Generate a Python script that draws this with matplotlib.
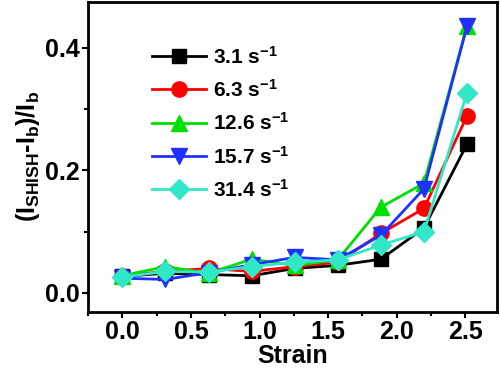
import matplotlib
matplotlib.use('Agg')
import matplotlib.pyplot as plt
from matplotlib.ticker import MultipleLocator

plt.rcParams['font.family'] = ['Liberation Sans', 'DejaVu Sans']
plt.rcParams['font.weight'] = 'bold'
plt.rcParams['mathtext.fontset'] = 'custom'
plt.rcParams['mathtext.rm'] = 'Liberation Sans:bold'
plt.rcParams['mathtext.bf'] = 'Liberation Sans:bold'
plt.rcParams['mathtext.default'] = 'bf'

strain = [0.0, 0.314, 0.628, 0.942, 1.256, 1.57, 1.884, 2.198, 2.512]
labels = ['3.1 s$^{-1}$', '6.3 s$^{-1}$', '12.6 s$^{-1}$', '15.7 s$^{-1}$', '31.4 s$^{-1}$']
rate_3_1 = [0.027, 0.032, 0.030, 0.028, 0.040, 0.045, 0.055, 0.106, 0.243]
rate_6_3 = [0.028, 0.035, 0.040, 0.035, 0.043, 0.050, 0.097, 0.138, 0.289]
rate_12_6 = [0.028, 0.043, 0.032, 0.055, 0.045, 0.054, 0.140, 0.179, 0.436]
rate_15_7 = [0.024, 0.022, 0.033, 0.046, 0.058, 0.054, 0.094, 0.170, 0.436]
rate_31_4 = [0.026, 0.035, 0.034, 0.043, 0.050, 0.054, 0.078, 0.100, 0.327]

series = [rate_3_1, rate_6_3, rate_12_6, rate_15_7, rate_31_4]
colors = ['#000000', '#ff0000', '#00e000', '#2030ff', '#30e8c8']
markers = ['s', 'o', '^', 'v', 'D']
sizes = [10, 11, 11, 11, 10]

fig = plt.figure(figsize=(5, 3.74), dpi=100)
ax = fig.add_axes([0.176, 0.166, 0.818, 0.829])

for vals, lab, c, m, ms in zip(series, labels, colors, markers, sizes):
    ax.plot(strain, vals, color=c, marker=m, markersize=ms, linewidth=2,
            label=lab)

ax.set_xlim(-0.25, 2.73)
ax.set_ylim(-0.031, 0.475)
ax.xaxis.set_major_locator(MultipleLocator(0.5))
ax.xaxis.set_minor_locator(MultipleLocator(0.25))
ax.yaxis.set_major_locator(MultipleLocator(0.2))
ax.yaxis.set_minor_locator(MultipleLocator(0.1))
ax.tick_params(which='major', direction='out', length=4, width=1.5,
               labelsize=18, pad=2)
ax.tick_params(which='minor', direction='out', length=3, width=1.5)
for lbl in ax.get_xticklabels() + ax.get_yticklabels():
    lbl.set_fontweight('bold')
for sp in ax.spines.values():
    sp.set_linewidth(2)

ax.set_xlabel('Strain', fontsize=18, fontweight='bold', labelpad=0)
ax.set_ylabel('(I$_{SHISH}$-I$_b$)/I$_b$', fontsize=18, fontweight='bold',
              labelpad=2)

ax.legend(loc='upper left', bbox_to_anchor=(0.11, 0.92), frameon=False,
          handlelength=2.6, handletextpad=0.35, labelspacing=0.55,
          prop={'weight': 'bold', 'size': 15})

fig.savefig('out.png', dpi=100)
